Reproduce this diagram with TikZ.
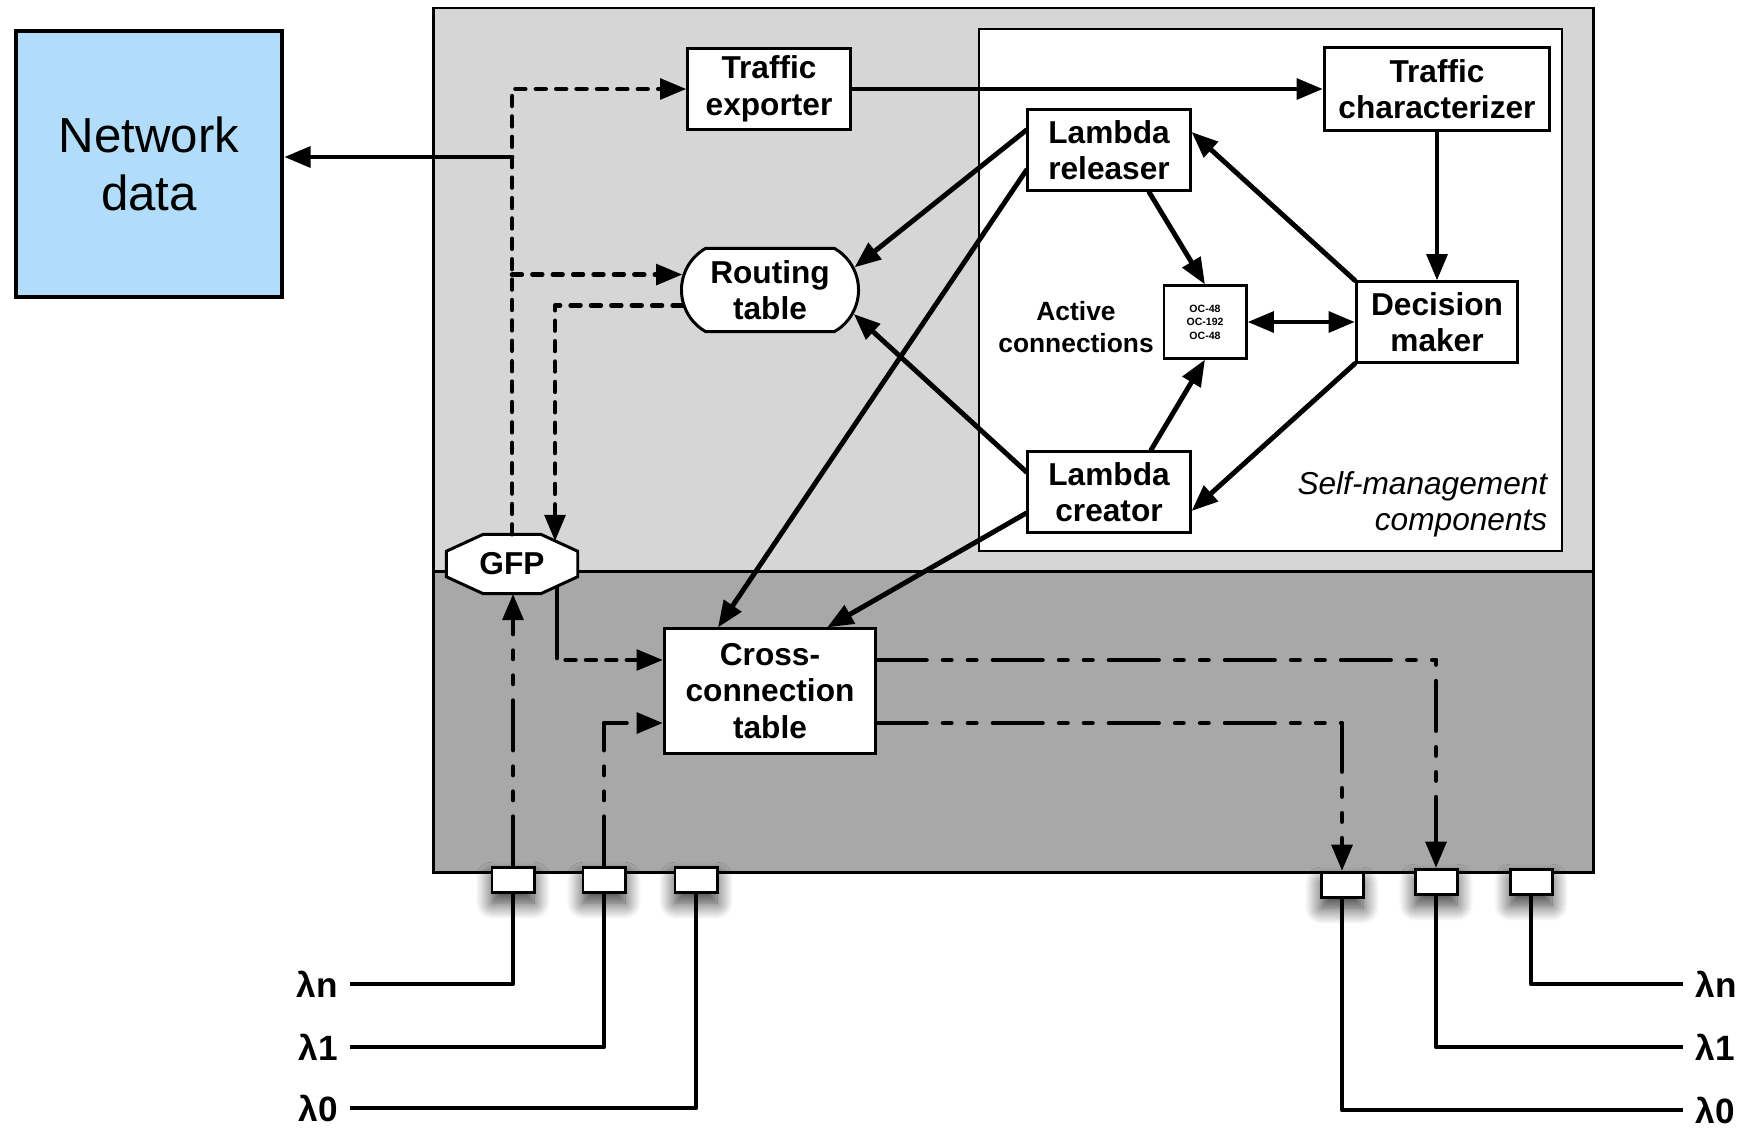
\documentclass[tikz,border=0pt]{standalone}
\usepackage{fontspec}
\setmainfont{Liberation Sans}
\usetikzlibrary{arrows.meta,shapes.misc,shadows.blur}

\definecolor{paneltop}{RGB}{214,214,214}
\definecolor{panelbot}{RGB}{168,168,168}
\definecolor{netblue}{RGB}{178,221,250}

\tikzset{
  box/.style={draw, fill=white, line width=0.85pt, align=center, inner sep=1pt,
    font=\fontsize{9}{10.4}\selectfont\bfseries},
  conn/.style={line width=1.4pt, line cap=round, line join=round},
  dsh/.style={conn, line width=1.3pt, dash pattern=on 2.8pt off 3pt},
  ddot/.style={conn, dash pattern=on 14pt off 4.8pt on 2.3pt off 4.8pt on 2.3pt off 4.8pt},
  wire/.style={line width=1.2pt, line join=round},
  port/.style={draw, fill=white, line width=0.85pt, minimum width=0.42cm,
    minimum height=0.25cm, inner sep=0pt,
    blur shadow={shadow xshift=0pt, shadow yshift=-3pt, shadow blur radius=4.5pt,
      shadow blur steps=16, shadow opacity=80}},
  lam/.style={font=\fontsize{10}{12}\selectfont\bfseries},
}

\begin{document}
\begin{tikzpicture}[x=0.01cm, y=-0.01cm, >={Triangle[length=7.5pt,width=5.8pt]}]
\useasboundingbox (0,0) rectangle (1749,1127);
    % Switch body
    \fill[paneltop] (433,8) rectangle (1593,571);
    \fill[panelbot] (433,571) rectangle (1593,872);
    \draw[line width=0.85pt] (433,8) rectangle (1593,872);
    \draw[line width=0.85pt] (433,571) -- (1593,571);
    \draw[line width=0.8pt, fill=white] (979,29) rectangle (1562,551);

    % Boxes
    \node[draw, line width=1.2pt, fill=netblue, minimum width=2.66cm, minimum height=2.66cm,
      align=center, font=\fontsize{14}{16.5}\selectfont] (netdata) at (149,164) {Network\\data};
    \node[box, minimum width=1.62cm, minimum height=0.81cm] (exporter) at (769,89) {Traffic\\exporter};
    \node[box, minimum width=2.25cm, minimum height=0.82cm] (charact) at (1437,89) {Traffic\\characterizer};
    \node[box, minimum width=1.62cm, minimum height=0.81cm] (releaser) at (1109,150) {Lambda\\releaser};
    \node[box, minimum width=1.62cm, minimum height=0.81cm] (creator) at (1109,492) {Lambda\\creator};
    \node[box, minimum width=1.61cm, minimum height=0.80cm] (decision) at (1437,322) {Decision\\maker};
    \node[box, minimum width=0.82cm, minimum height=0.72cm,
      font=\fontsize{3}{3.8}\selectfont\bfseries] (active) at (1205,322) {OC-48\\OC-192\\OC-48};
    \node[align=center, font=\fontsize{7.5}{9}\selectfont\bfseries] (activelbl) at (1076,327) {Active\\connections};
    \node[box, rounded rectangle, rounded rectangle arc length=120,
      minimum width=1.84cm, minimum height=0.83cm] (routing) at (770,290) {Routing\\table};
    \node[box, minimum width=2.11cm, minimum height=1.24cm] (crossconn) at (770,691) {Cross-\\connection\\table};
    \node[anchor=south east, inner sep=0pt, align=right,
      font=\fontsize{9}{10.3}\selectfont\itshape] (selfnote) at (1548,538) {Self-management\\components};

    % GFP octagon
    \node[minimum width=1.3cm, minimum height=0.58cm, inner sep=0pt] (gfp) at (512,564) {};
    \draw[fill=white, line width=0.85pt]
      ([xshift=0.37cm]gfp.north west) -- ([xshift=-0.37cm]gfp.north east)
      -- ([yshift=-0.17cm]gfp.north east) -- ([yshift=0.17cm]gfp.south east)
      -- ([xshift=-0.37cm]gfp.south east) -- ([xshift=0.37cm]gfp.south west)
      -- ([yshift=0.17cm]gfp.south west) -- ([yshift=-0.17cm]gfp.north west) -- cycle;
    \node[font=\fontsize{9}{10.4}\selectfont\bfseries] (gfplbl) at (gfp) {GFP};

    % Ports
    \node[port] (p1) at (513,880) {};
    \node[port] (p2) at (604,880) {};
    \node[port] (p3) at (696,880) {};
    \node[port] (p4) at (1342,885) {};
    \node[port] (p5) at (1436,882) {};
    \node[port] (p6) at (1531,882) {};

    % Wavelengths
    \node[lam, anchor=east] (inN) at (350,984) {λn};
    \node[lam, anchor=east] (in1) at (350,1047) {λ1};
    \node[lam, anchor=east] (in0) at (350,1108) {λ0};
    \node[lam, anchor=west] (outN) at (1683,984) {λn};
    \node[lam, anchor=west] (out1) at (1683,1047) {λ1};
    \node[lam, anchor=west] (out0) at (1683,1110) {λ0};
    \draw[wire] (p1.south) |- (inN);
    \draw[wire] (p2.south) |- (in1);
    \draw[wire] (p3.south) |- (in0);
    \draw[wire] (p6.south) |- (outN);
    \draw[wire] (p5.south) |- (out1);
    \draw[wire] (p4.south) |- (out0);

    % Control plane
    \coordinate (tap) at (512,157);
    \draw[conn,->] (tap) -- (tap -| netdata.east);
    \draw[dsh,->] (gfp.north) |- (exporter.west);
    \draw[dsh,->] (tap |- routing.170) -- (routing.170);
    \draw[dsh,->] (routing.190) -| ([xshift=0.43cm,yshift=-0.07cm]gfp.north);
    \draw[conn,->] (exporter.east) -- (charact.west);
    \draw[conn,->] (charact.south) -- (decision.north);
    \draw[conn,->] (decision.north west) -- ([yshift=0.18cm]releaser.east);
    \draw[conn,->] (decision.south west) -- ([yshift=-0.19cm]creator.east);
    \draw[conn,<->] (active.east) -- (decision.west);
    \draw[conn,->] ([xshift=0.4cm]releaser.south) -- (active.north);
    \draw[conn,->] ([xshift=0.42cm]creator.north) -- (active.south);
    \draw[conn,->] ([yshift=0.2cm]releaser.west) -- (routing.15);
    \draw[conn,->] ([yshift=0.2cm]creator.west) -- (routing.-16);
    \draw[conn,->] ([yshift=-0.2cm]releaser.west) -- ([xshift=-0.52cm]crossconn.north);
    \draw[conn,->] ([yshift=-0.21cm]creator.west) -- ([xshift=0.57cm]crossconn.north);

    % Data plane
    \draw[dsh,->, dash pattern=on 20pt off 3pt on 2.8pt off 3pt on 2.8pt off 3pt on 2.8pt off 3pt]
      ([xshift=0.45cm,yshift=0.06cm]gfp.south) |- ([yshift=0.31cm]crossconn.west);
    \draw[ddot,->] (p1.north) -- (p1.north |- gfp.south);
    \draw[ddot,->] (p2.north) |- ([yshift=-0.32cm]crossconn.west);
    \draw[ddot,->] ([yshift=0.31cm]crossconn.east) -| (p5.north);
    \draw[ddot,->] ([yshift=-0.32cm]crossconn.east) -| (p4.north);
\end{tikzpicture}
\end{document}
